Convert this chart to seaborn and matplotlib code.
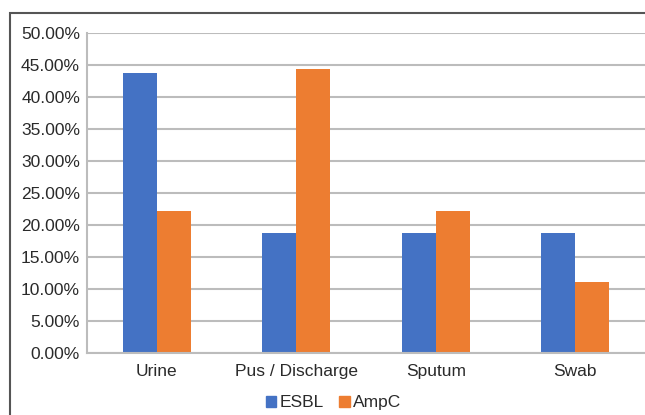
import pandas as pd
import matplotlib
matplotlib.use("Agg")
import matplotlib.pyplot as plt
import matplotlib.patches as mpatches
from matplotlib.ticker import PercentFormatter
import seaborn as sns

# Chart values (percent)
specimens = ["Urine", "Pus / Discharge", "Sputum", "Swab"]
esbl = [43.75, 18.75, 18.75, 18.75]
ampc = [22.22, 44.44, 22.22, 11.11]
series_names = ["ESBL", "AmpC"]
palette = ["#4472C4", "#ED7D31"]

df = pd.DataFrame({
    "specimen": specimens * 2,
    "value": esbl + ampc,
    "type": [series_names[0]] * len(specimens) + [series_names[1]] * len(specimens),
})

sns.set_style("white")
plt.rcParams["font.family"] = ["Liberation Sans", "DejaVu Sans"]

fig = plt.figure(figsize=(6.45, 4.15), dpi=100)
ax = fig.add_axes([0.1349, 0.1494, 0.8651, 0.7711])

sns.barplot(data=df, x="specimen", y="value", hue="type", palette=palette,
            width=0.487, gap=0, saturation=1, linewidth=0, ax=ax, legend=False)

ax.set_ylim(0, 50)
ax.set_xlim(-0.5, 3.5)
ax.set_yticks(range(0, 51, 5))
ax.yaxis.set_major_formatter(PercentFormatter(decimals=2))
ax.grid(axis="y", color="#bcbcbc", linewidth=1.5)
ax.set_axisbelow(True)
ax.set_xlabel("")
ax.set_ylabel("")
ax.tick_params(axis="both", length=0, labelsize=12.5, colors="#2a2a2a")
ax.tick_params(axis="y", pad=5)
ax.tick_params(axis="x", pad=8)

for side in ["top", "right"]:
    ax.spines[side].set_visible(False)
for side in ["left", "bottom"]:
    ax.spines[side].set_color("#bcbcbc")
    ax.spines[side].set_linewidth(1.5)

# legend at the bottom
handles = [mpatches.Patch(color=c, label=n) for c, n in zip(palette, series_names)]
leg = fig.legend(handles=handles, loc="center", bbox_to_anchor=(0.517, 0.029), ncol=2,
                 frameon=False, fontsize=12.5, handlelength=0.6, handleheight=0.6,
                 handletextpad=0.2, columnspacing=0.9)
for t in leg.get_texts():
    t.set_color("#2a2a2a")

# outer chart border (cut off at right/bottom like the reference)
border = mpatches.Rectangle((10 / 645, -0.1), 1.2, 1 - 13 / 415 + 0.1,
                            transform=fig.transFigure, fill=False,
                            edgecolor="#555555", linewidth=1.5)
fig.patches.append(border)

fig.savefig("out.png", dpi=100)
